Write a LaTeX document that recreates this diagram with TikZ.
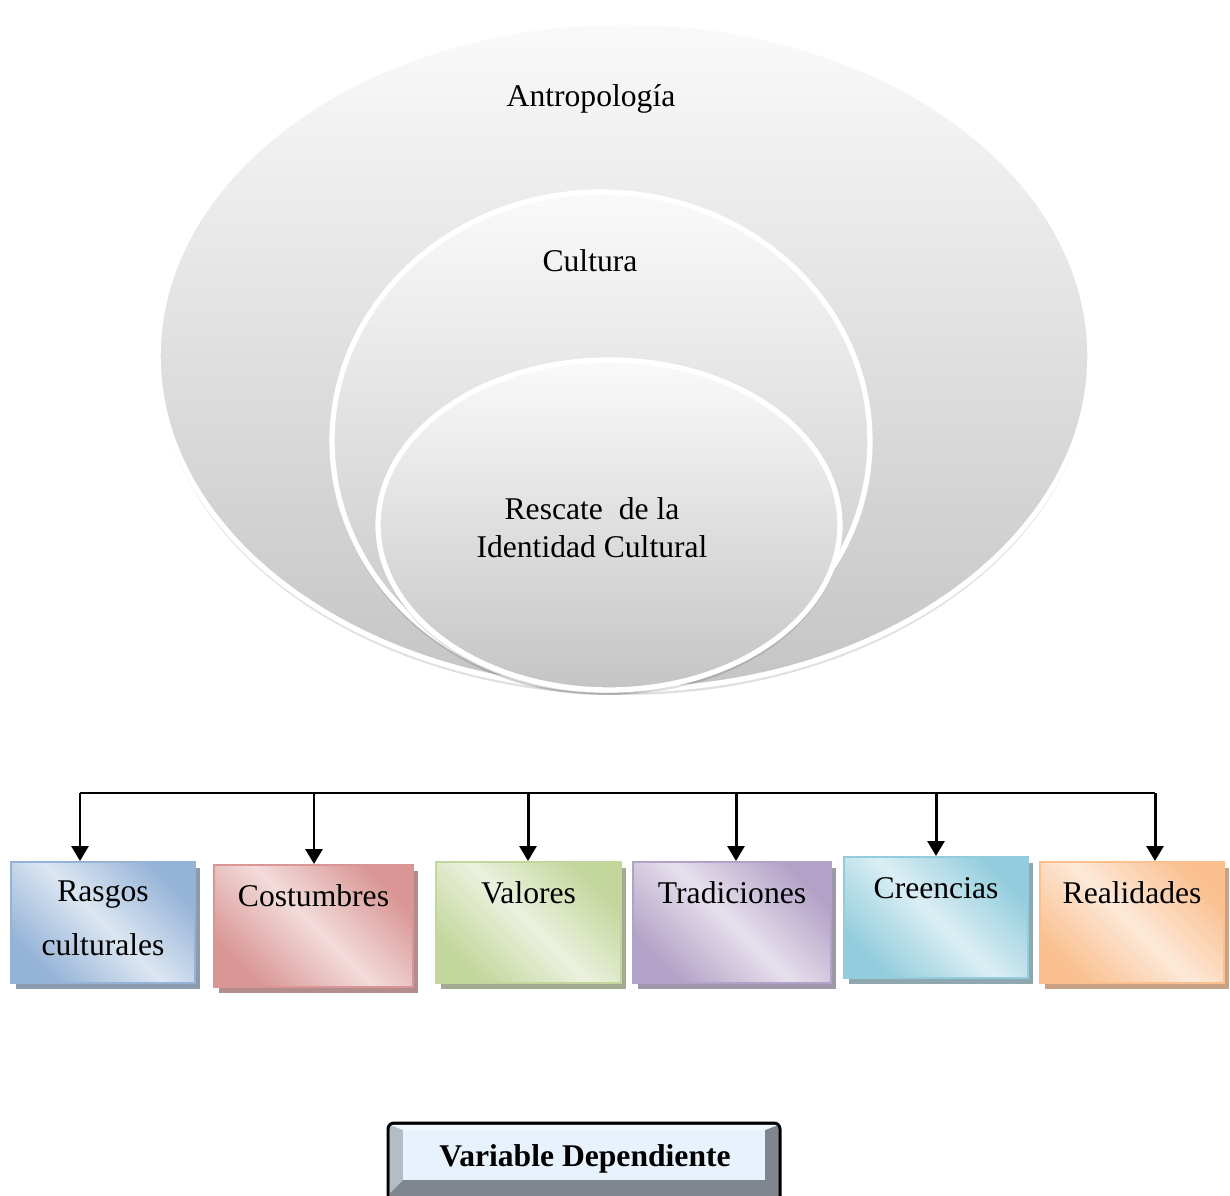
\documentclass[tikz,border=0pt]{standalone}
\usepackage{fontspec}
\setmainfont{Liberation Serif}
\usetikzlibrary{arrows.meta,shadows,calc}

\definecolor{azulOsc}{HTML}{95B3D7}
\definecolor{azulCla}{HTML}{DCE6F2}
\definecolor{azulSom}{HTML}{8C9BAD}
\definecolor{rojoOsc}{HTML}{D99694}
\definecolor{rojoCla}{HTML}{F2DCDB}
\definecolor{rojoSom}{HTML}{B38D8C}
\definecolor{verdeOsc}{HTML}{C3D69B}
\definecolor{verdeCla}{HTML}{EBF1DE}
\definecolor{verdeSom}{HTML}{A2AB91}
\definecolor{moradoOsc}{HTML}{B3A2C7}
\definecolor{moradoCla}{HTML}{E6E0EC}
\definecolor{moradoSom}{HTML}{A098AA}
\definecolor{aguaOsc}{HTML}{93CDDD}
\definecolor{aguaCla}{HTML}{DBEEF4}
\definecolor{aguaSom}{HTML}{8FA8B0}
\definecolor{naranjaOsc}{HTML}{FAC090}
\definecolor{naranjaCla}{HTML}{FDE9D9}
\definecolor{naranjaSom}{HTML}{C9A184}
\definecolor{biselClaro}{HTML}{F2F8FF}
\definecolor{biselIzq}{HTML}{B4BCC6}
\definecolor{biselOsc}{HTML}{80868E}
\definecolor{cara}{HTML}{E8F2FC}

\tikzset{
	capa/.style={draw=white, line width=3pt, top color=gray!4, bottom color=gray!46},
	sombra/.style={fill=black, opacity=0.12},
	caja/.style n args={3}{draw=#1, line width=1.2pt, top color=#1, bottom color=#1, middle color=#2, shading angle=-45, drop shadow={shadow xshift=0.1cm, shadow yshift=-0.12cm, fill=#3, opacity=1}, anchor=north west, inner sep=0pt},
	rotulo/.style={anchor=base, inner sep=0pt, align=center},
	flecha/.style={line width=1.7pt, -{Triangle[width=0.34cm, length=0.3cm]}},
}

\begin{document}
\begin{tikzpicture}[x=0.02cm, y=-0.02cm, font=\fontsize{18}{31}\selectfont]
			%%%%% START %%%%%
			\useasboundingbox (0,0) rectangle (1230,1196);
			
			%%%%% ELIPSES %%%%%
			\fill[sombra] (624,360) ellipse [x radius=9.34cm, y radius=6.70cm];
			\shade[capa] (624,356) ellipse [x radius=9.32cm, y radius=6.68cm];
			\fill[sombra] (601,445) ellipse [x radius=5.40cm, y radius=5.00cm];
			\shade[capa] (601,441) ellipse [x radius=5.38cm, y radius=4.98cm];
			\fill[sombra] (609,529) ellipse [x radius=4.64cm, y radius=3.32cm];
			\shade[capa] (609,525) ellipse [x radius=4.62cm, y radius=3.30cm];
			
			\node[rotulo] (antro) at (591,107) {Antropología};
			\node[rotulo] (cultura) at (590,272) {Cultura};
			\node[rotulo, anchor=north, font=\fontsize{18}{22}\selectfont] (rescate) at (592,497) {Rescate\ \ de la\\Identidad Cultural};
			
			%%%%% CAJAS %%%%%
			\node[caja={azulOsc}{azulCla}{azulSom}, minimum width=3.68cm, minimum height=2.42cm] (rasgos) at (10,861) {};
			\node[caja={rojoOsc}{rojoCla}{rojoSom}, minimum width=3.98cm, minimum height=2.44cm] (costumbres) at (213,864) {};
			\node[caja={verdeOsc}{verdeCla}{verdeSom}, minimum width=3.70cm, minimum height=2.42cm] (valores) at (435,861) {};
			\node[caja={moradoOsc}{moradoCla}{moradoSom}, minimum width=3.96cm, minimum height=2.42cm] (tradiciones) at (632,861) {};
			\node[caja={aguaOsc}{aguaCla}{aguaSom}, minimum width=3.68cm, minimum height=2.42cm] (creencias) at (843,856) {};
			\node[caja={naranjaOsc}{naranjaCla}{naranjaSom}, minimum width=3.68cm, minimum height=2.42cm] (realidades) at (1039,861) {};
			
			\node[rotulo, anchor=north] (tRasgos) at ($(rasgos.north)+(0,19)$) {Rasgos\\culturales};
			\node[rotulo] (tCostumbres) at ($(costumbres.north)+(0,42)$) {Costumbres};
			\node[rotulo] (tValores) at ($(valores.north)+(0,42)$) {Valores};
			\node[rotulo] (tTradiciones) at ($(tradiciones.north)+(0,42)$) {Tradiciones};
			\node[rotulo] (tCreencias) at ($(creencias.north)+(0,42)$) {Creencias};
			\node[rotulo] (tRealidades) at ($(realidades.north)+(0,42)$) {Realidades};
			
			%%%%% FLECHAS %%%%%
			\coordinate (bus1) at (80,793);
			\coordinate (bus2) at (314,793);
			\coordinate (bus3) at (528,793);
			\coordinate (bus4) at (736,793);
			\coordinate (bus5) at (936,793);
			\coordinate (bus6) at (1155,793);
			
			\draw[line width=1.4pt] (bus1) -- (bus6);
			\draw[flecha] (bus1) -- (bus1 |- rasgos.north);
			\draw[flecha] (bus2) -- (bus2 |- costumbres.north);
			\draw[flecha] (bus3) -- (bus3 |- valores.north);
			\draw[flecha] (bus4) -- (bus4 |- tradiciones.north);
			\draw[flecha] (bus5) -- (bus5 |- creencias.north);
			\draw[flecha] (bus6) -- (bus6 |- realidades.north);
			
			%%%%% VARIABLE %%%%%
			\fill[biselOsc, rounded corners=0.12cm] (388,1123) rectangle (780,1240);
			\fill[biselIzq] (390,1125) -- (403,1130) -- (403,1180) -- (390,1193) -- cycle;
			\fill[biselClaro] (390,1125) -- (778,1125) -- (765,1130) -- (403,1130) -- cycle;
			\fill[cara] (403,1130) rectangle (765,1180);
			\draw[line width=1.7pt, rounded corners=0.12cm] (388,1123) rectangle (780,1240);
			\node[rotulo, font=\fontsize{18}{22}\selectfont\bfseries] (varDep) at (585,1166) {Variable Dependiente};
			
			%%%%% END %%%%%
\end{tikzpicture}
\end{document}
